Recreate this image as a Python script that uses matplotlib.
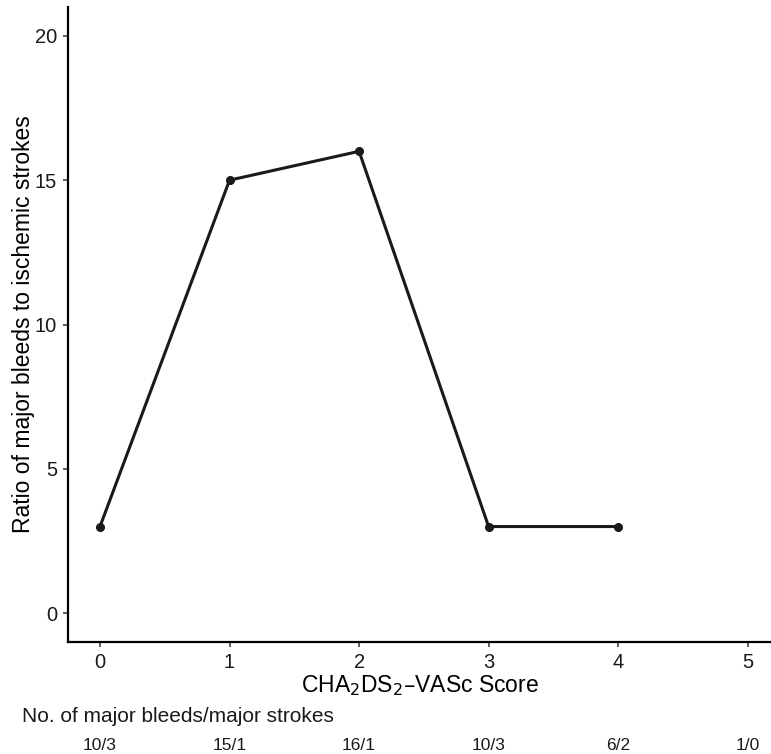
import matplotlib
matplotlib.use("Agg")
import matplotlib.pyplot as plt

plt.rcParams['font.family'] = ['Liberation Sans', 'DejaVu Sans']

scores = [0, 1, 2, 3, 4]
ratio = [3, 15, 16, 3, 3]
xticks = [0, 1, 2, 3, 4, 5]
yticks = [0, 5, 10, 15, 20]
counts = ["10/3", "15/1", "16/1", "10/3", "6/2", "1/0"]

W, H = 771, 754
fig = plt.figure(figsize=(W / 100, H / 100), dpi=100)
ax = fig.add_axes([68 / W, (H - 642) / H, 1 - 68 / W, (642 - 7) / H])

ax.plot(scores, ratio, color="#1a1a1a", lw=2.2, marker="o", ms=5.5, clip_on=False)

ax.set_xlim(-0.247, 5.18)
ax.set_ylim(-1, 21)
ax.set_xticks(xticks)
ax.set_yticks(yticks)
ax.tick_params(labelsize=14.5, color="#333333", length=3.8, width=1.1, labelcolor="#1a1a1a", pad=4)
for s in ["top", "right"]:
    ax.spines[s].set_visible(False)
for s in ["left", "bottom"]:
    ax.spines[s].set_linewidth(1.6)

ax.set_xlabel("CHA$_2$DS$_2$\u2013VASc Score", fontsize=16.5, labelpad=1)
ax.set_ylabel("Ratio of major bleeds to ischemic strokes", fontsize=16.5, labelpad=0)

fig.text(22 / W, 1 - 716 / H, "No. of major bleeds/major strokes", fontsize=15,
         ha="left", va="center", color="#1a1a1a")
for xv, c in zip(xticks, counts):
    xd = ax.transData.transform((xv, 0))[0]
    fig.text(xd / W, 1 - 746 / H, c, fontsize=12.5, ha="center", va="center", color="#1a1a1a")

fig.savefig("out.png", dpi=100)
